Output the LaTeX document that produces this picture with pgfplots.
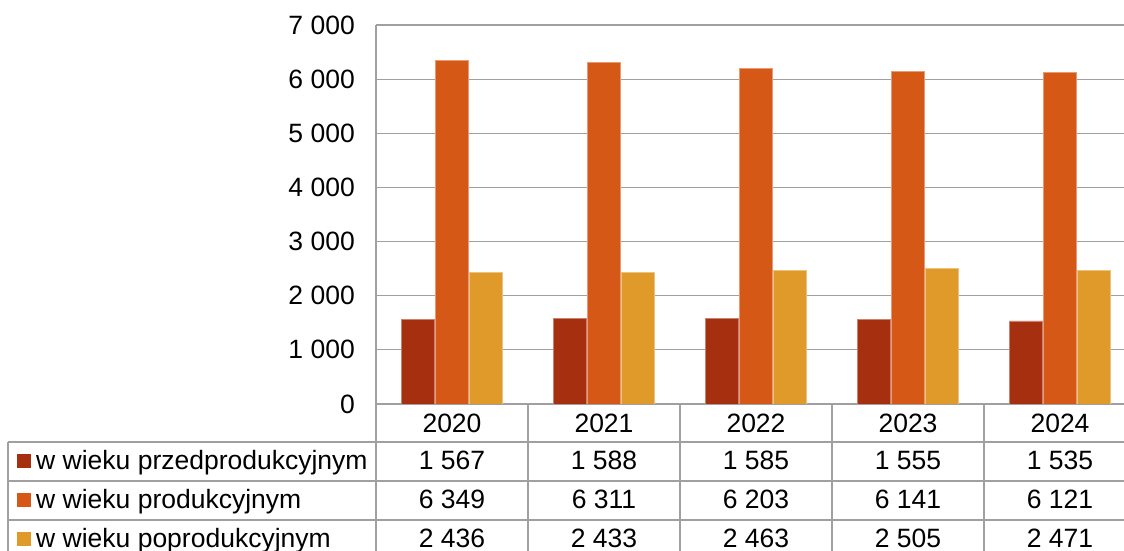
\documentclass[border=0pt]{standalone}
\usepackage{pgfplots}
\usepackage{pgfplotstable}
\pgfplotsset{compat=1.18}
\usepackage{fontspec}
\setmainfont{Liberation Sans}

\definecolor{przed}{HTML}{A52F0F}
\definecolor{prod}{HTML}{D65817}
\definecolor{popr}{HTML}{E09A2A}
\definecolor{gridc}{HTML}{A0A0A0}

\pgfplotstableread{
x rok  przed prod popr
0 2020 1567  6349 2436
1 2021 1588  6311 2433
2 2022 1585  6203 2463
3 2023 1555  6141 2505
4 2024 1535  6121 2471
}\dane

\pgfkeys{/pgf/number format/.cd, 1000 sep={\ }, assume math mode=true}

\begin{document}
\fontsize{26.5bp}{32bp}\selectfont
\begin{tikzpicture}[x=1bp, y=1bp]
\useasboundingbox (0,0) rectangle (1124,551);
\clip (0,0) rectangle (1124,551);
\begin{axis}[
    at={(376bp,147bp)}, anchor=south west,
    scale only axis, width=748bp, height=379bp,
    xmin=-0.5, xmax=4.421, ymin=0, ymax=7000,
    ytick={0,1000,...,7000}, xtick=\empty,
    major tick length=0pt,
    ymajorgrids, grid style={gridc, line width=1.2bp},
    axis lines=left,
    axis line style={-, gridc, line width=1.2bp},
    yticklabel style={anchor=east, inner sep=0pt, xshift=-21bp},
    ybar=0.5bp, bar width=33.5bp,
    /pgf/number format/.cd, 1000 sep={\ }, assume math mode=true,
]
\addplot[fill=przed, draw=przed!60!white, line width=0.6bp] table[x=x, y=przed]{\dane};
\addplot[fill=prod, draw=prod!60!white, line width=0.6bp] table[x=x, y=prod]{\dane};
\addplot[fill=popr, draw=popr!60!white, line width=0.6bp] table[x=x, y=popr]{\dane};
\end{axis}

% data table below the chart
\begin{scope}[gridc, line width=1.2bp]
  \draw (376,147) -- (376,-10);
  \foreach \vx in {528,680,832,984} \draw (\vx,147) -- (\vx,-10);
  \draw (8,109) -- (8,-10);
  \foreach \hy in {109,70,31} \draw (8,\hy) -- (1124,\hy);
\end{scope}

\foreach \i in {0,...,4}{
  \pgfmathsetmacro\cx{452+152*\i}
  \pgfplotstablegetelem{\i}{rok}\of\dane
  \node[anchor=base, inner sep=0pt] at (\cx,118) {\pgfplotsretval};
  \foreach \s/\yb in {przed/81, prod/42, popr/3}{
    \pgfplotstablegetelem{\i}{\s}\of\dane
    \node[anchor=base, inner sep=0pt] at (\cx,\yb) {\pgfmathprintnumber{\pgfplotsretval}};
  }
}

\fill[przed] (17,82.5) rectangle (31,96.5);
\node[anchor=base west, inner sep=0pt] at (36,81) {w wieku przedprodukcyjnym};
\fill[prod] (17,43.5) rectangle (31,57.5);
\node[anchor=base west, inner sep=0pt] at (36,42) {w wieku produkcyjnym};
\fill[popr] (17,4.5) rectangle (31,18.5);
\node[anchor=base west, inner sep=0pt] at (36,3) {w wieku poprodukcyjnym};
\end{tikzpicture}
\end{document}
